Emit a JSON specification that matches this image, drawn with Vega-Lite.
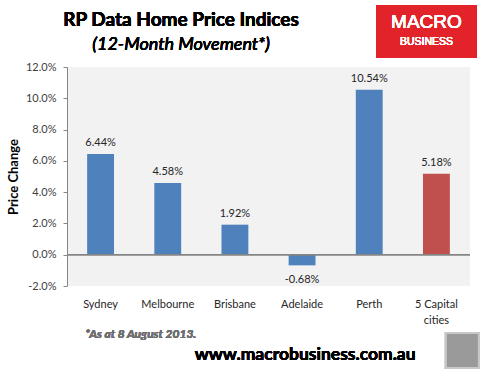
{
  "$schema": "https://vega.github.io/schema/vega-lite/v6.json",
  "width": 403,
  "height": 219,
  "autosize": {"type": "none"},
  "padding": {"left": 67, "top": 67, "right": 16, "bottom": 90},
  "background": "white",
  "config": {
    "view": {"fill": "#F2F2F2", "stroke": null},
    "font": "Lato",
    "locale": {"number": {"decimal": ".", "thousands": ",", "grouping": [3], "currency": ["$", ""], "minus": "-"}}
  },
  "data": {
    "values": [
      {"city": "Sydney", "change": 0.0644},
      {"city": "Melbourne", "change": 0.0458},
      {"city": "Brisbane", "change": 0.0192},
      {"city": "Adelaide", "change": -0.0068},
      {"city": "Perth", "change": 0.1054},
      {"city": "5 Capital cities", "change": 0.0518}
    ]
  },
  "resolve": {"scale": {"x": "independent", "y": "independent"}},
  "layer": [
    {
      "mark": {"type": "bar", "width": {"band": 0.4}},
      "encoding": {
        "x": {
          "field": "city", "type": "nominal", "sort": null,
          "scale": {"domain": ["Sydney", "Melbourne", "Brisbane", "Adelaide", "Perth", "5 Capital cities"], "paddingInner": 0, "paddingOuter": 0},
          "axis": {
            "title": null, "labelAngle": 0, "domain": false, "ticks": false,
            "labelPadding": 12, "labelFontSize": 11, "labelColor": "#262626", "labelFont": "Lato",
            "labelLineHeight": 16,
            "labelExpr": "datum.label == '5 Capital cities' ? ['5 Capital', 'cities'] : datum.label"
          }
        },
        "y": {
          "field": "change", "type": "quantitative",
          "scale": {"domain": [-0.02, 0.12], "nice": false, "zero": false},
          "axis": {
            "title": "Price Change", "format": ".1%",
            "values": [-0.02, 0, 0.02, 0.04, 0.06, 0.08, 0.1, 0.12],
            "grid": false, "domainColor": "#868686", "tickColor": "#868686", "tickSize": 4,
            "labelFontSize": 11, "labelColor": "#404040", "labelPadding": 7, "labelFont": "Lato",
            "titleFontSize": 13, "titleFontWeight": "bold", "titleColor": "#000000", "titleFont": "Lato",
            "titlePadding": 5
          }
        },
        "color": {
          "condition": {"test": "datum.city == '5 Capital cities'", "value": "#C0504D"},
          "value": "#4F81BD"
        }
      }
    },
    {
      "mark": {"type": "rule", "color": "#868686", "strokeWidth": 1},
      "encoding": {
        "y": {"datum": 0, "type": "quantitative", "scale": {"domain": [-0.02, 0.12], "nice": false, "zero": false}, "axis": null}
      }
    },
    {
      "transform": [{"filter": "datum.change >= 0"}],
      "mark": {"type": "text", "baseline": "bottom", "dy": -6, "fontSize": 11, "fontWeight": 400, "color": "#262626", "font": "Lato"},
      "encoding": {
        "x": {"field": "city", "type": "nominal", "sort": null, "axis": null,
          "scale": {"domain": ["Sydney", "Melbourne", "Brisbane", "Adelaide", "Perth", "5 Capital cities"], "paddingInner": 0, "paddingOuter": 0}},
        "y": {"field": "change", "type": "quantitative", "axis": null, "scale": {"domain": [-0.02, 0.12], "nice": false, "zero": false}},
        "text": {"field": "change", "type": "quantitative", "format": ".2%"}
      }
    },
    {
      "transform": [{"filter": "datum.change < 0"}],
      "mark": {"type": "text", "baseline": "top", "dy": 9, "fontSize": 11, "fontWeight": 400, "color": "#262626", "font": "Lato"},
      "encoding": {
        "x": {"field": "city", "type": "nominal", "sort": null, "axis": null,
          "scale": {"domain": ["Sydney", "Melbourne", "Brisbane", "Adelaide", "Perth", "5 Capital cities"], "paddingInner": 0, "paddingOuter": 0}},
        "y": {"field": "change", "type": "quantitative", "axis": null, "scale": {"domain": [-0.02, 0.12], "nice": false, "zero": false}},
        "text": {"field": "change", "type": "quantitative", "format": ".2%"}
      }
    },
    {
      "mark": {"type": "text", "text": "RP Data Home Price Indices", "font": "Lato", "fontSize": 19, "fontWeight": "bold", "color": "#000000", "baseline": "middle", "align": "center"},
      "encoding": {
        "x": {"datum": 0.283, "type": "quantitative", "axis": null, "scale": {"domain": [0, 1], "nice": false, "zero": false}},
        "y": {"datum": 0.150, "type": "quantitative", "axis": null, "scale": {"domain": [-0.02, 0.12], "nice": false, "zero": false}}
      }
    },
    {
      "mark": {"type": "text", "text": "(12-Month Movement*)", "font": "Lato", "fontSize": 18, "fontWeight": 400, "fontStyle": "italic", "color": "#000000", "baseline": "middle", "align": "center"},
      "encoding": {
        "x": {"datum": 0.283, "type": "quantitative", "axis": null, "scale": {"domain": [0, 1], "nice": false, "zero": false}},
        "y": {"datum": 0.134, "type": "quantitative", "axis": null, "scale": {"domain": [-0.02, 0.12], "nice": false, "zero": false}}
      }
    },
    {
      "mark": {"type": "rect", "fill": "#E2232A"},
      "encoding": {
        "x": {"datum": 0.767, "type": "quantitative", "axis": null, "scale": {"domain": [0, 1], "nice": false, "zero": false}},
        "x2": {"datum": 1.017},
        "y": {"datum": 0.1596, "type": "quantitative", "axis": null, "scale": {"domain": [-0.02, 0.12], "nice": false, "zero": false}},
        "y2": {"datum": 0.1258}
      }
    },
    {
      "mark": {"type": "text", "text": "MACRO", "font": "Liberation Sans", "fontSize": 19, "fontWeight": 400, "color": "#FFFFFF", "baseline": "middle", "align": "center"},
      "encoding": {
        "x": {"datum": 0.892, "type": "quantitative", "axis": null, "scale": {"domain": [0, 1], "nice": false, "zero": false}},
        "y": {"datum": 0.1488, "type": "quantitative", "axis": null, "scale": {"domain": [-0.02, 0.12], "nice": false, "zero": false}}
      }
    },
    {
      "mark": {"type": "text", "text": "BUSINESS", "font": "Liberation Sans", "fontSize": 10.5, "fontWeight": 400, "color": "#FFFFFF", "baseline": "middle", "align": "center", "letterSpacing": 2},
      "encoding": {
        "x": {"datum": 0.892, "type": "quantitative", "axis": null, "scale": {"domain": [0, 1], "nice": false, "zero": false}},
        "y": {"datum": 0.1358, "type": "quantitative", "axis": null, "scale": {"domain": [-0.02, 0.12], "nice": false, "zero": false}}
      }
    },
    {
      "mark": {"type": "rect", "fill": "#9A9A9A", "stroke": "#C8C8C8", "strokeWidth": 2},
      "encoding": {
        "x": {"datum": 0.94, "type": "quantitative", "axis": null, "scale": {"domain": [0, 1], "nice": false, "zero": false}},
        "x2": {"datum": 1.022},
        "y": {"datum": -0.05, "type": "quantitative", "axis": null, "scale": {"domain": [-0.02, 0.12], "nice": false, "zero": false}},
        "y2": {"datum": -0.0724}
      }
    },
    {
      "mark": {"type": "text", "text": "*As at  8 August 2013.", "font": "Lato", "fontSize": 12, "fontWeight": "bold", "fontStyle": "italic", "color": "#6F6F6F", "baseline": "middle", "align": "left"},
      "encoding": {
        "x": {"datum": 0.045, "type": "quantitative", "axis": null, "scale": {"domain": [0, 1], "nice": false, "zero": false}},
        "y": {"datum": -0.0507, "type": "quantitative", "axis": null, "scale": {"domain": [-0.02, 0.12], "nice": false, "zero": false}}
      }
    },
    {
      "mark": {"type": "text", "text": "www.macrobusiness.com.au", "font": "Lato", "fontSize": 17.5, "fontWeight": "bold", "color": "#000000", "baseline": "middle", "align": "center"},
      "encoding": {
        "x": {"datum": 0.591, "type": "quantitative", "axis": null, "scale": {"domain": [0, 1], "nice": false, "zero": false}},
        "y": {"datum": -0.0641, "type": "quantitative", "axis": null, "scale": {"domain": [-0.02, 0.12], "nice": false, "zero": false}}
      }
    }
  ]
}
